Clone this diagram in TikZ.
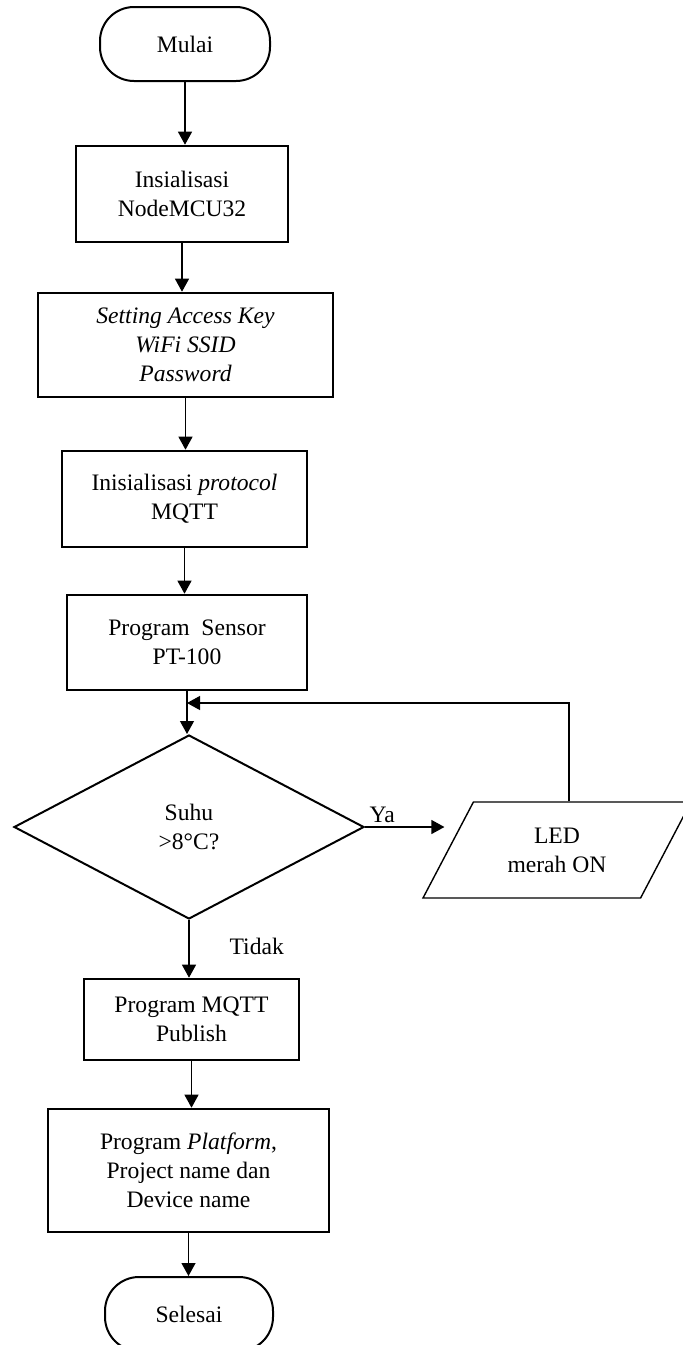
\documentclass[tikz,border=0pt]{standalone}
\usepackage{fontspec}
\setmainfont{Liberation Serif}
\usetikzlibrary{shapes.geometric,arrows.meta}
\begin{document}
\begin{tikzpicture}[
    x=0.5pt, y=-0.5pt,
    every node/.style={font=\fontsize{11.8}{14.5}\selectfont, align=center, inner sep=0pt},
    terminal/.style={draw, line width=1pt, rounded corners=17pt, minimum width=85pt, minimum height=37pt},
    process/.style={draw, line width=1.3pt},
    decision/.style={draw, diamond, line width=1pt, minimum width=175pt, minimum height=92pt},
    io/.style={draw, trapezium, trapezium left angle=60.6, trapezium right angle=119.4,
      trapezium stretches body, inner ysep=11.2pt, line width=0.7pt, minimum width=134pt, minimum height=48pt},
    flow/.style={-{Triangle[length=6.5pt,width=7pt]}, line width=0.6pt}
    ]
    \useasboundingbox (0,0) rectangle (682,1345);
    \node[terminal] (mulai) at (185,44) {Mulai};
    \node[process, minimum width=106pt, minimum height=48pt] (init) at (182,194) {Insialisasi\\NodeMCU32};
    \node[process, minimum width=147.5pt, minimum height=52pt] (setting) at (185.5,345)
      {\itshape Setting Access Key\\\itshape WiFi SSID\\\itshape Password};
    \node[process, minimum width=122.5pt, minimum height=48pt] (mqtt) at (184.5,499)
      {Inisialisasi \textit{protocol}\\MQTT};
    \node[process, minimum width=120pt, minimum height=47.5pt] (sensor) at (187,642.5) {Program\ \ Sensor\\PT-100};
    \node[decision] (suhu) at (189,827) {Suhu\\>8°C?};
    \node[io] (led) at (557,850) {LED\\merah ON};
    \node[process, minimum width=107.5pt, minimum height=40.5pt] (publish) at (191.5,1019.5) {Program MQTT\\Publish};
    \node[process, minimum width=140.5pt, minimum height=61.5pt] (platform) at (188.5,1170.5)
      {Program \textit{Platform},\\Project name dan\\Device name};
    \node[terminal, minimum width=84pt] (selesai) at (189,1314) {Selesai};

    \draw[flow] (mulai.south) -- (mulai.south |- init.north);
    \draw[flow] (init.south) -- (init.south |- setting.north);
    \draw[flow] (setting.south) -- (setting.south |- mqtt.north);
    \draw[flow] (mqtt.south) -- (mqtt.south |- sensor.north);
    \draw[flow] (sensor.south) -- (sensor.south |- suhu.north);
    \draw[flow] (suhu.east) -- ([xshift=-1.5pt]suhu.east -| led.west) node[pos=0, above right=2pt] {Ya};
    \draw[flow] ([xshift=6pt]led.north) |- (sensor.south |- 0,703);
    \draw[flow] (suhu.south) -- (suhu.south |- publish.north) node[pos=0.46, right=20pt] {Tidak};
    \draw[flow] (publish.south) -- (publish.south |- platform.north);
    \draw[flow] (platform.south) -- (platform.south |- selesai.north);
  \end{tikzpicture}
\end{document}
